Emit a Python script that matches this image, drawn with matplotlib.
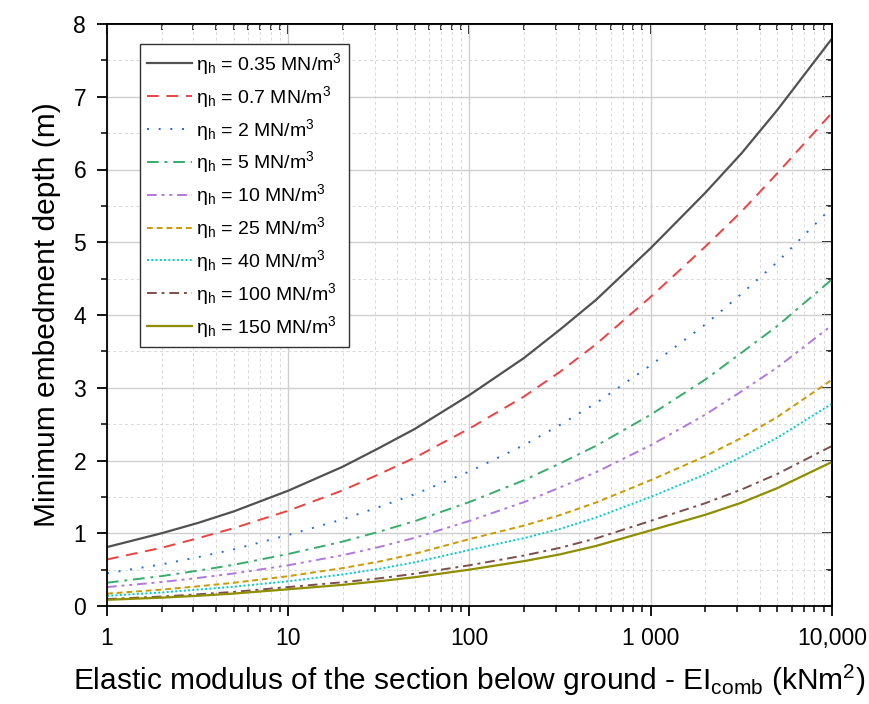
import matplotlib
matplotlib.use("Agg")
import matplotlib.pyplot as plt
from matplotlib.ticker import FixedLocator, NullFormatter, MultipleLocator, LogLocator

plt.rcParams['font.family'] = ['Liberation Sans', 'DejaVu Sans']
plt.rcParams['mathtext.fontset'] = 'custom'
plt.rcParams['mathtext.rm'] = 'Liberation Sans'
plt.rcParams['mathtext.it'] = 'Liberation Sans:italic'

# EI_comb (kNm^2) sample positions
ei = [1, 2, 3.16, 5, 10, 20, 31.6, 50, 100, 200, 316, 500, 1000, 2000, 3162, 5000, 10000]

# Minimum embedment depth (m) for each eta_h
d_035 = [0.81, 1.00, 1.14, 1.30, 1.585, 1.915, 2.17, 2.435, 2.90, 3.41, 3.80, 4.21, 4.92, 5.68, 6.22, 6.82, 7.80]
d_07 = [0.64, 0.80, 0.93, 1.07, 1.31, 1.59, 1.81, 2.04, 2.44, 2.88, 3.22, 3.60, 4.25, 4.94, 5.42, 5.95, 6.78]
d_2 = [0.45, 0.572, 0.67, 0.778, 0.976, 1.192, 1.36, 1.537, 1.85, 2.212, 2.49, 2.789, 3.31, 3.87, 4.29, 4.73, 5.48]
d_5 = [0.32, 0.411, 0.485, 0.566, 0.715, 0.886, 1.02, 1.167, 1.43, 1.729, 1.96, 2.203, 2.63, 3.113, 3.48, 3.85, 4.49]
d_10 = [0.26, 0.329, 0.385, 0.447, 0.56, 0.699, 0.81, 0.938, 1.17, 1.428, 1.63, 1.84, 2.21, 2.63, 2.95, 3.28, 3.86]
d_25 = [0.17, 0.225, 0.27, 0.319, 0.41, 0.521, 0.61, 0.719, 0.92, 1.106, 1.25, 1.423, 1.73, 2.059, 2.31, 2.60, 3.11]
d_40 = [0.14, 0.186, 0.225, 0.265, 0.34, 0.434, 0.51, 0.601, 0.77, 0.933, 1.06, 1.217, 1.50, 1.81, 2.05, 2.314, 2.78]
d_100 = [0.095, 0.13, 0.16, 0.194, 0.26, 0.327, 0.38, 0.443, 0.56, 0.694, 0.80, 0.93, 1.17, 1.413, 1.60, 1.816, 2.20]
d_150 = [0.085, 0.115, 0.14, 0.171, 0.23, 0.291, 0.34, 0.396, 0.50, 0.617, 0.71, 0.826, 1.04, 1.254, 1.42, 1.621, 1.98]

labels = ['0.35', '0.7', '2', '5', '10', '25', '40', '100', '150']
series = [d_035, d_07, d_2, d_5, d_10, d_25, d_40, d_100, d_150]
colors = ['#515151', '#F14040', '#1A6FDF', '#37AD6B', '#B177DE',
          '#CC9900', '#00CBCC', '#7D4E4E', '#8E8E00']
dashes = [None, (6, 4), (1, 5), (6, 3, 1.5, 3), (5, 2.5, 1.5, 2.5, 1.5, 2.5),
          (3, 2), (1, 1.2), (5, 2.5, 1.5, 2.5), None]

xtick_vals = [1, 10, 100, 1000, 10000]
xtick_labels = ['1', '10', '100', '1 000', '10,000']

fig = plt.figure(figsize=(8.7, 7.04), dpi=100)
ax = fig.add_axes([107/870, 1-606/704, 725/870, 582/704])

for vals, lab, col, ds in zip(series, labels, colors, dashes):
    line, = ax.plot(ei, vals, color=col, lw=1.6 if ds is None else 1.4,
                    label='η$_\\mathrm{h}$ = ' + lab + ' MN/m$^3$')
    if ds is not None:
        line.set_dashes(ds)

ax.set_xscale('log')
ax.set_xlim(1, 10000)
ax.set_ylim(0, 8)

ax.xaxis.set_major_locator(FixedLocator(xtick_vals))
ax.set_xticklabels(xtick_labels)
ax.xaxis.set_minor_locator(LogLocator(base=10, subs=range(2, 10), numticks=20))
ax.xaxis.set_minor_formatter(NullFormatter())
ax.yaxis.set_major_locator(MultipleLocator(1))
ax.yaxis.set_minor_locator(MultipleLocator(0.5))

ax.grid(which='major', color='#cfcfcf', lw=1.0, ls='-')
ax.grid(which='minor', color='#d9d9d9', lw=0.7, ls=(0, (3, 3)))
ax.set_axisbelow(True)

for s in ax.spines.values():
    s.set_linewidth(1.3)
ax.tick_params(which='major', direction='out', length=7, width=1.3, labelsize=16.5, pad=8)
ax.tick_params(which='minor', direction='out', length=4, width=1.1)

top = ax.secondary_xaxis('top')
top.set_xscale('log')
top.xaxis.set_major_locator(FixedLocator(xtick_vals))
top.xaxis.set_minor_locator(LogLocator(base=10, subs=range(2, 10), numticks=20))
top.tick_params(which='major', direction='in', length=7, width=1.3, labeltop=False)
top.tick_params(which='minor', direction='in', length=4, width=1.1, labeltop=False)
top.xaxis.set_minor_formatter(NullFormatter())
top.spines['top'].set_linewidth(1.3)

right = ax.secondary_yaxis('right')
right.yaxis.set_major_locator(MultipleLocator(1))
right.yaxis.set_minor_locator(MultipleLocator(0.5))
right.tick_params(which='major', direction='in', length=7, width=1.3, labelright=False)
right.tick_params(which='minor', direction='in', length=4, width=1.1, labelright=False)
right.spines['right'].set_linewidth(1.3)

ax.set_xlabel(r'Elastic modulus of the section below ground - EI$_\mathrm{comb}$ (kNm$^2$)',
              fontsize=21.5, labelpad=9)
ax.set_ylabel('Minimum embedment depth (m)', fontsize=21.5, labelpad=9)

leg = ax.legend(loc='upper left', bbox_to_anchor=(33/725, 1-20/582), borderaxespad=0,
                fontsize=14, frameon=True, fancybox=False, edgecolor='#333333',
                framealpha=1, handlelength=2.3, handletextpad=0.25, labelspacing=0.36,
                borderpad=0.35)
leg.get_frame().set_linewidth(1.0)

fig.savefig('out.png', dpi=100)
